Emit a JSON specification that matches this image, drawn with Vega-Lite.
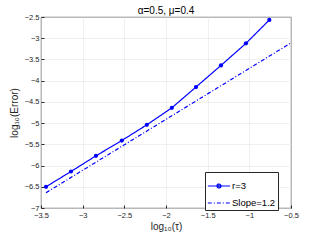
{
  "$schema": "https://vega.github.io/schema/vega-lite/v6.json",
  "autosize": {"type": "none"},
  "width": 250,
  "height": 191,
  "padding": {"left": 41, "top": 17, "right": 30, "bottom": 33},
  "background": "white",
  "title": {"text": "α=0.5, μ=0.4", "fontSize": 10, "font": "Liberation Sans", "fontWeight": "normal", "color": "#000000", "offset": 3, "dy": 6},
  "config": {
    "view": {"stroke": "#262626", "strokeWidth": 0.8},
    "axis": {"labelFont": "Liberation Sans", "labelFontSize": 7.5, "labelColor": "#262626", "labelOverlap": false, "labelBound": false, "labelFlush": false, "format": "~g", "titleFont": "Liberation Sans", "titleFontSize": 10, "titleFontWeight": "normal", "titleColor": "#262626", "gridColor": "#e6e6e6", "gridWidth": 0.6, "domain": false, "tickColor": "#262626", "tickSize": -3},
    "legend": {"title": null, "orient": "none", "legendX": 164, "legendY": 155, "symbolSize": 500, "symbolStrokeColor": "#0000ff", "symbolFillColor": "#0000ff", "symbolOpacity": 1, "symbolStrokeWidth": 1.2, "labelFont": "Liberation Sans", "labelFontSize": 9.5, "labelColor": "#000000", "labelOffset": 1, "strokeColor": "#262626", "fillColor": "white", "padding": 2, "rowPadding": 0}
  },
  "data": {"values": [
    {"x": -3.44, "y": -6.5, "series": "r=3"},
    {"x": -3.14, "y": -6.14, "series": "r=3"},
    {"x": -2.84, "y": -5.77, "series": "r=3"},
    {"x": -2.53, "y": -5.41, "series": "r=3"},
    {"x": -2.23, "y": -5.04, "series": "r=3"},
    {"x": -1.93, "y": -4.64, "series": "r=3"},
    {"x": -1.64, "y": -4.15, "series": "r=3"},
    {"x": -1.34, "y": -3.64, "series": "r=3"},
    {"x": -1.04, "y": -3.12, "series": "r=3"},
    {"x": -0.76, "y": -2.57, "series": "r=3"},
    {"x": -3.44, "y": -6.64, "series": "Slope=1.2"},
    {"x": -0.5, "y": -3.11, "series": "Slope=1.2"}
  ]},
  "encoding": {
    "x": {"field": "x", "type": "quantitative", "scale": {"domain": [-3.5, -0.5], "nice": false}, "axis": {"values": [-3.5, -3, -2.5, -2, -1.5, -1, -0.5], "title": "log₁₀(τ)", "titlePadding": 3, "labelPadding": 6}},
    "y": {"field": "y", "type": "quantitative", "scale": {"domain": [-7, -2.5], "nice": false, "zero": false}, "axis": {"values": [-7, -6.5, -6, -5.5, -5, -4.5, -4, -3.5, -3, -2.5], "title": "log₁₀(Error)", "titlePadding": 5, "labelPadding": 5}}
  },
  "layer": [
    {
      "mark": {"type": "line", "strokeWidth": 1.2, "clip": true},
      "encoding": {
        "color": {"field": "series", "type": "nominal", "scale": {"domain": ["r=3", "Slope=1.2"], "range": ["#0000ff", "#0000ff"]}},
        "strokeDash": {"field": "series", "type": "nominal", "scale": {"domain": ["r=3", "Slope=1.2"], "range": [[1, 0], [4, 2, 1, 2]]}}
      }
    },
    {
      "mark": {"type": "point", "filled": true, "opacity": 0, "size": 0},
      "encoding": {
        "shape": {"field": "series", "type": "nominal", "scale": {"domain": ["r=3", "Slope=1.2"], "range": ["M-1,0H1M-0.18,0A0.18,0.18,0,1,0,0.18,0A0.18,0.18,0,1,0,-0.18,0Z", "stroke"]}}
      }
    },
    {
      "transform": [{"filter": "datum.series === 'r=3'"}],
      "mark": {"type": "point", "filled": true, "size": 18, "color": "#0000ff", "opacity": 1}
    }
  ]
}
